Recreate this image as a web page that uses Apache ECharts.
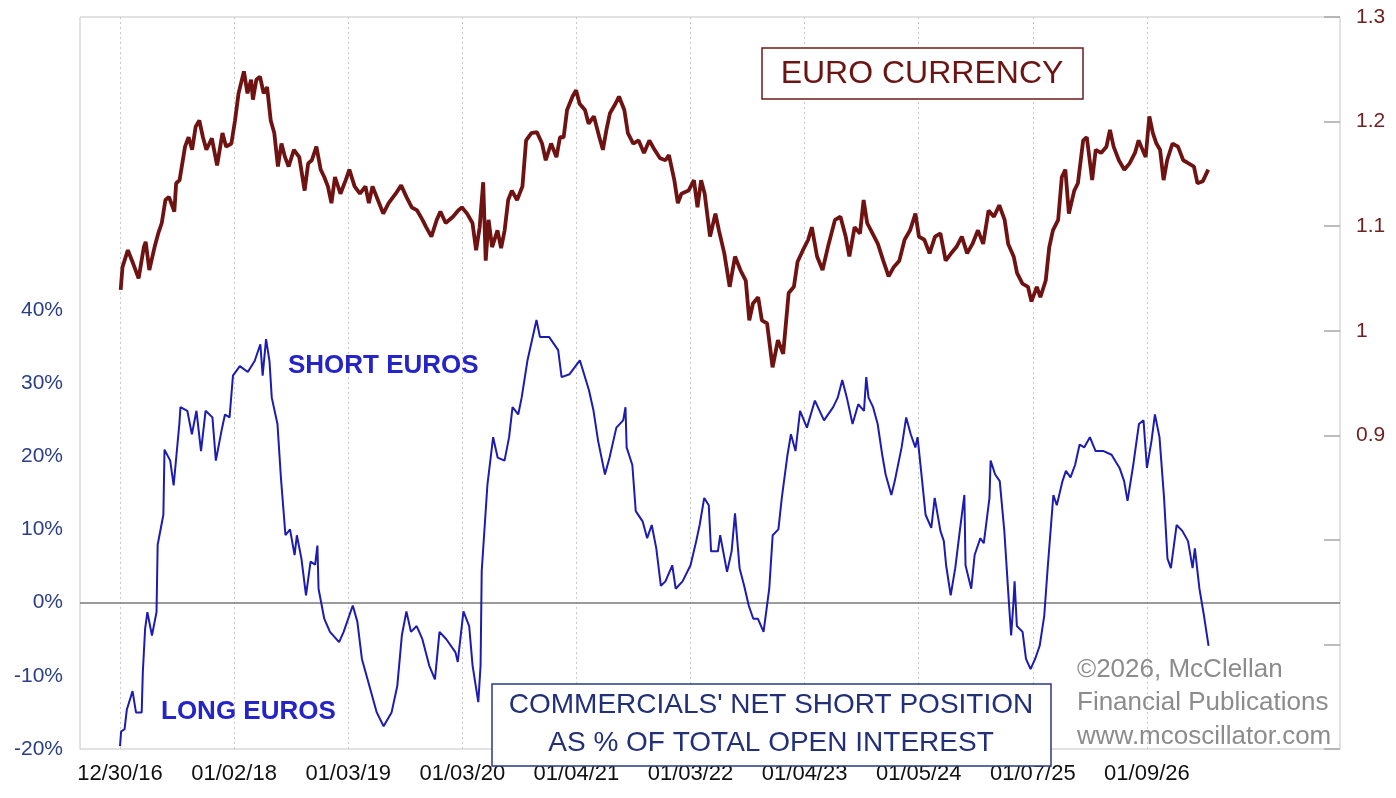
<!DOCTYPE html>
<html><head><meta charset="utf-8">
<script src="https://cdn.jsdelivr.net/npm/echarts@6/dist/echarts.min.js"></script>
<style>html,body{margin:0;padding:0;background:#fff}#c{width:1396px;height:798px}</style>
</head><body><div id="c"></div>
<script>
// x positions are decimal "years" (tick k at 2017+k)
const tickValues = [2017,2018,2019,2020,2021,2022,2023,2024,2025,2026];
const tickLabels = ['12/30/16','01/02/18','01/03/19','01/03/20','01/04/21','01/03/22','01/04/23','01/05/24','01/07/25','01/09/26'];

const euroX = [2017.006,2017.022,2017.069,2017.116,2017.163,2017.209,2017.225,2017.257,2017.303,2017.335,2017.366,2017.398,2017.429,2017.476,2017.492,2017.522,2017.570,2017.601,2017.632,2017.663,2017.695,2017.727,2017.757,2017.805,2017.851,2017.898,2017.930,2017.976,2018.008,2018.039,2018.086,2018.117,2018.149,2018.165,2018.195,2018.227,2018.259,2018.289,2018.321,2018.352,2018.384,2018.415,2018.446,2018.478,2018.524,2018.571,2018.618,2018.649,2018.681,2018.721,2018.759,2018.790,2018.822,2018.853,2018.884,2018.932,2018.978,2019.010,2019.056,2019.103,2019.151,2019.181,2019.213,2019.260,2019.307,2019.354,2019.416,2019.464,2019.510,2019.557,2019.604,2019.651,2019.683,2019.729,2019.776,2019.808,2019.854,2019.918,2019.964,2019.996,2020.042,2020.089,2020.121,2020.152,2020.183,2020.205,2020.230,2020.261,2020.308,2020.340,2020.371,2020.402,2020.434,2020.480,2020.527,2020.559,2020.605,2020.653,2020.699,2020.731,2020.778,2020.825,2020.856,2020.888,2020.918,2020.966,2020.997,2021.028,2021.075,2021.107,2021.153,2021.201,2021.232,2021.263,2021.294,2021.342,2021.373,2021.420,2021.451,2021.498,2021.545,2021.592,2021.639,2021.685,2021.733,2021.780,2021.811,2021.858,2021.889,2021.920,2021.983,2022.030,2022.061,2022.093,2022.124,2022.171,2022.218,2022.249,2022.296,2022.343,2022.390,2022.437,2022.484,2022.515,2022.547,2022.593,2022.625,2022.671,2022.719,2022.766,2022.812,2022.860,2022.906,2022.938,2022.985,2023.031,2023.063,2023.109,2023.157,2023.204,2023.266,2023.314,2023.360,2023.392,2023.438,2023.485,2023.517,2023.548,2023.595,2023.642,2023.689,2023.736,2023.782,2023.830,2023.876,2023.924,2023.971,2024.002,2024.049,2024.095,2024.143,2024.190,2024.236,2024.284,2024.330,2024.378,2024.424,2024.471,2024.519,2024.565,2024.612,2024.659,2024.706,2024.753,2024.784,2024.832,2024.862,2024.909,2024.957,2024.988,2025.035,2025.066,2025.113,2025.144,2025.176,2025.222,2025.254,2025.285,2025.316,2025.363,2025.395,2025.441,2025.473,2025.520,2025.551,2025.598,2025.645,2025.676,2025.708,2025.754,2025.802,2025.848,2025.895,2025.927,2025.989,2026.021,2026.052,2026.083,2026.115,2026.146,2026.177,2026.224,2026.272,2026.318,2026.365,2026.412,2026.443,2026.490,2026.537];
const euroY = [1.039,1.061,1.077,1.064,1.050,1.080,1.085,1.058,1.080,1.093,1.103,1.125,1.128,1.114,1.141,1.144,1.176,1.185,1.173,1.195,1.201,1.185,1.173,1.184,1.158,1.189,1.176,1.179,1.201,1.227,1.248,1.227,1.240,1.221,1.240,1.243,1.227,1.233,1.201,1.189,1.157,1.179,1.166,1.157,1.173,1.166,1.134,1.160,1.163,1.176,1.154,1.147,1.138,1.122,1.147,1.131,1.144,1.154,1.138,1.131,1.138,1.122,1.138,1.125,1.112,1.122,1.131,1.139,1.128,1.118,1.115,1.106,1.099,1.090,1.106,1.114,1.103,1.109,1.115,1.118,1.112,1.103,1.077,1.099,1.142,1.067,1.106,1.080,1.096,1.079,1.096,1.125,1.134,1.125,1.138,1.182,1.189,1.190,1.179,1.163,1.179,1.166,1.185,1.185,1.211,1.224,1.230,1.217,1.211,1.198,1.205,1.185,1.173,1.192,1.208,1.217,1.224,1.211,1.189,1.179,1.182,1.170,1.182,1.173,1.165,1.163,1.168,1.144,1.122,1.131,1.134,1.144,1.118,1.144,1.131,1.090,1.112,1.096,1.074,1.042,1.071,1.058,1.048,1.010,1.026,1.032,1.010,1.007,0.965,0.991,0.978,1.036,1.042,1.066,1.077,1.087,1.099,1.071,1.058,1.080,1.106,1.109,1.090,1.071,1.099,1.093,1.125,1.103,1.093,1.083,1.067,1.052,1.061,1.067,1.087,1.096,1.112,1.090,1.087,1.074,1.090,1.093,1.067,1.074,1.080,1.090,1.074,1.083,1.096,1.083,1.115,1.109,1.120,1.106,1.083,1.071,1.055,1.045,1.042,1.028,1.042,1.032,1.048,1.080,1.096,1.106,1.147,1.154,1.112,1.134,1.141,1.182,1.185,1.144,1.173,1.170,1.176,1.192,1.176,1.163,1.154,1.160,1.170,1.182,1.166,1.205,1.189,1.179,1.173,1.144,1.163,1.179,1.176,1.163,1.160,1.157,1.141,1.143,1.154];

const cotX = [2017.00,2017.01,2017.04,2017.06,2017.11,2017.14,2017.19,2017.20,2017.22,2017.24,2017.28,2017.32,2017.33,2017.38,2017.39,2017.44,2017.47,2017.52,2017.53,2017.59,2017.63,2017.67,2017.71,2017.75,2017.81,2017.84,2017.89,2017.92,2017.96,2017.99,2018.05,2018.12,2018.18,2018.23,2018.25,2018.28,2018.31,2018.33,2018.38,2018.41,2018.45,2018.49,2018.53,2018.55,2018.59,2018.63,2018.67,2018.71,2018.73,2018.74,2018.79,2018.84,2018.92,2018.96,2019.04,2019.08,2019.12,2019.17,2019.25,2019.31,2019.38,2019.43,2019.47,2019.51,2019.55,2019.60,2019.65,2019.71,2019.76,2019.80,2019.86,2019.94,2019.96,2020.01,2020.06,2020.09,2020.14,2020.16,2020.17,2020.22,2020.27,2020.31,2020.37,2020.41,2020.44,2020.49,2020.52,2020.57,2020.65,2020.68,2020.76,2020.84,2020.87,2020.94,2021.03,2021.11,2021.15,2021.19,2021.25,2021.29,2021.35,2021.41,2021.43,2021.44,2021.49,2021.52,2021.58,2021.62,2021.66,2021.70,2021.74,2021.78,2021.84,2021.87,2021.93,2022.00,2022.05,2022.08,2022.12,2022.16,2022.18,2022.24,2022.26,2022.32,2022.36,2022.39,2022.43,2022.47,2022.51,2022.55,2022.59,2022.64,2022.69,2022.72,2022.77,2022.80,2022.85,2022.88,2022.92,2022.96,2023.02,2023.09,2023.17,2023.25,2023.29,2023.33,2023.37,2023.42,2023.47,2023.52,2023.54,2023.56,2023.60,2023.64,2023.68,2023.71,2023.76,2023.79,2023.85,2023.89,2023.93,2023.97,2023.99,2024.03,2024.06,2024.11,2024.14,2024.19,2024.22,2024.24,2024.28,2024.32,2024.36,2024.40,2024.41,2024.46,2024.49,2024.54,2024.57,2024.62,2024.63,2024.67,2024.71,2024.75,2024.79,2024.81,2024.83,2024.84,2024.86,2024.91,2024.94,2024.98,2025.02,2025.06,2025.10,2025.13,2025.18,2025.21,2025.26,2025.29,2025.33,2025.37,2025.41,2025.45,2025.50,2025.55,2025.62,2025.69,2025.72,2025.76,2025.80,2025.83,2025.88,2025.93,2025.97,2026.00,2026.04,2026.07,2026.11,2026.15,2026.18,2026.21,2026.26,2026.31,2026.36,2026.40,2026.42,2026.46,2026.50,2026.54];
const cotY = [-19.6,-17.6,-17.3,-14.6,-12.1,-15.0,-15.0,-9.5,-3.6,-1.3,-4.5,-1.3,7.9,12.0,20.9,19.4,16.0,24.4,26.7,26.2,23.0,26.2,20.7,26.2,25.3,19.4,23.5,25.7,25.3,31.0,32.3,31.5,33.0,35.3,31.0,36.0,33.0,28.0,24.4,17.1,9.2,10.0,6.5,9.2,6.0,1.0,5.6,5.2,7.8,1.9,-2.2,-4.0,-5.4,-4.0,-0.4,-2.6,-7.7,-10.5,-15.0,-16.9,-15.0,-11.4,-4.5,-1.2,-4.0,-3.2,-5.0,-8.6,-10.5,-4.0,-5.0,-6.8,-8.1,-1.2,-3.2,-8.6,-13.6,-8.6,4.3,16.1,22.6,19.8,19.4,22.6,26.7,25.7,28.0,33.0,38.6,36.3,36.3,34.5,30.8,31.2,33.1,29.0,26.2,22.1,17.5,19.8,23.9,24.9,26.7,21.2,18.8,12.5,11.1,8.8,10.6,7.4,2.3,2.9,5.1,1.9,2.9,5.1,8.4,10.6,14.3,13.3,7.0,7.0,9.2,4.2,7.0,12.2,4.7,2.3,-0.4,-2.2,-2.2,-4.0,1.9,9.2,10.0,14.3,20.2,23.0,20.7,26.2,23.9,27.6,24.9,26.7,28.0,30.4,28.0,24.4,27.1,26.2,30.8,28.0,26.7,24.4,20.2,17.5,14.7,16.6,21.2,25.3,23.0,21.2,22.6,16.6,12.0,10.2,14.3,9.8,8.4,5.1,1.0,4.7,9.8,14.7,5.1,1.9,6.5,8.8,8.1,14.3,19.4,17.5,16.6,9.8,0.1,-4.5,0.0,2.9,-3.2,-4.0,-7.7,-9.1,-7.7,-5.9,-1.8,4.7,14.7,13.3,16.6,18.0,17.1,18.8,21.6,21.2,22.6,20.7,20.7,20.2,19.4,18.4,16.6,13.9,18.8,24.4,24.9,18.4,22.1,25.7,22.6,14.3,6.0,4.7,10.6,9.8,8.4,4.7,7.4,1.9,-1.8,-5.9];

const FONT = "'Liberation Sans', Arial, sans-serif";
const chart = echarts.init(document.getElementById('c'), null, {renderer:'canvas'});
chart.setOption({
  animation: false,
  backgroundColor: '#ffffff',
  grid: {left: 80, right: 56, top: 17, bottom: 49, show: true, borderColor: '#c4c4c4', borderWidth: 1, backgroundColor: 'transparent'},
  xAxis: {
    type: 'value', min: 2016.6494, max: 2027.692,
    axisLine: {show: false}, splitLine: {show: false},
    axisTick: {show: false, customValues: tickValues},
    axisLabel: {customValues: tickValues, margin: 14, color: '#111', fontSize: 22, fontFamily: FONT,
      formatter: v => tickLabels[tickValues.indexOf(Math.round(v))] || ''}
  },
  yAxis: [
    {type: 'value', min: -20, max: 80, interval: 10, position: 'left',
     axisLine: {show: false}, axisTick: {show: false}, splitLine: {show: false},
     axisLabel: {margin: 17, color: '#2a3f86', fontSize: 21, fontFamily: FONT,
       formatter: v => v <= 40 ? v + '%' : ''}},
    {type: 'value', min: 0.6, max: 1.3, interval: 0.1, position: 'right',
     axisLine: {show: false}, splitLine: {show: false},
     axisTick: {show: true, inside: true, length: 16, lineStyle: {color: '#a8a8a8', width: 1.5}},
     axisLabel: {margin: 16, color: '#6e2222', fontSize: 21, fontFamily: FONT,
       formatter: v => v > 0.85 ? String(+v.toFixed(1)) : ''}}
  ],
  series: [
    {type: 'line', name: 'grid', yAxisIndex: 0, data: [], z: 1, silent: true,
     markLine: {z: 1, silent: true, symbol: 'none', label: {show: false},
       lineStyle: {color: '#c8c8c8', type: [2, 3], width: 1},
       data: tickValues.map(v => ({xAxis: v}))}},
    {type: 'line', name: 'Euro', yAxisIndex: 1, showSymbol: false, z: 3,
     lineStyle: {color: '#6e1212', width: 3.8}, itemStyle: {color: '#6e1212'},
     data: euroX.map((x, i) => [x, euroY[i]])},
    {type: 'line', name: 'COT', yAxisIndex: 0, showSymbol: false, z: 4,
     lineStyle: {color: '#1c1cb0', width: 2}, itemStyle: {color: '#1c1cb0'},
     data: cotX.map((x, i) => [x, cotY[i]]),
     markLine: {z: 2, silent: true, symbol: 'none', label: {show: false},
       lineStyle: {color: '#7a7a7a', type: 'solid', width: 1.5},
       data: [{yAxis: 0}]}}
  ],
  graphic: [
    {type: 'rect', z: 100, shape: {x: 762, y: 48, width: 321, height: 51},
     style: {fill: '#ffffff', stroke: '#6e1a1a', lineWidth: 1.5}},
    {type: 'text', z: 101, x: 922, y: 74,
     style: {text: 'EURO CURRENCY', font: '32px ' + FONT, fill: '#6b1414', textAlign: 'center', textVerticalAlign: 'middle'}},
    {type: 'text', z: 101, x: 288, y: 366,
     style: {text: 'SHORT EUROS', font: 'bold 26px ' + FONT, fill: '#2424c8', textAlign: 'left', textVerticalAlign: 'middle'}},
    {type: 'text', z: 101, x: 161, y: 712,
     style: {text: 'LONG EUROS', font: 'bold 26px ' + FONT, fill: '#2424c8', textAlign: 'left', textVerticalAlign: 'middle'}},
    {type: 'rect', z: 100, shape: {x: 492, y: 684, width: 559, height: 82},
     style: {fill: '#ffffff', stroke: '#2a3a86', lineWidth: 1.5}},
    {type: 'text', z: 101, x: 771, y: 705,
     style: {text: "COMMERCIALS' NET SHORT POSITION", font: '28px ' + FONT, fill: '#22307a', textAlign: 'center', textVerticalAlign: 'middle'}},
    {type: 'text', z: 101, x: 771, y: 743,
     style: {text: 'AS % OF TOTAL OPEN INTEREST', font: '28px ' + FONT, fill: '#22307a', textAlign: 'center', textVerticalAlign: 'middle'}},
    {type: 'text', z: 101, x: 1077, y: 670,
     style: {text: '©2026, McClellan', font: '26px ' + FONT, fill: '#8c8c8c', textAlign: 'left', textVerticalAlign: 'middle'}},
    {type: 'text', z: 101, x: 1077, y: 703,
     style: {text: 'Financial Publications', font: '26px ' + FONT, fill: '#8c8c8c', textAlign: 'left', textVerticalAlign: 'middle'}},
    {type: 'text', z: 101, x: 1077, y: 737,
     style: {text: 'www.mcoscillator.com', font: '26px ' + FONT, fill: '#8c8c8c', textAlign: 'left', textVerticalAlign: 'middle'}}
  ]
});
</script></body></html>
